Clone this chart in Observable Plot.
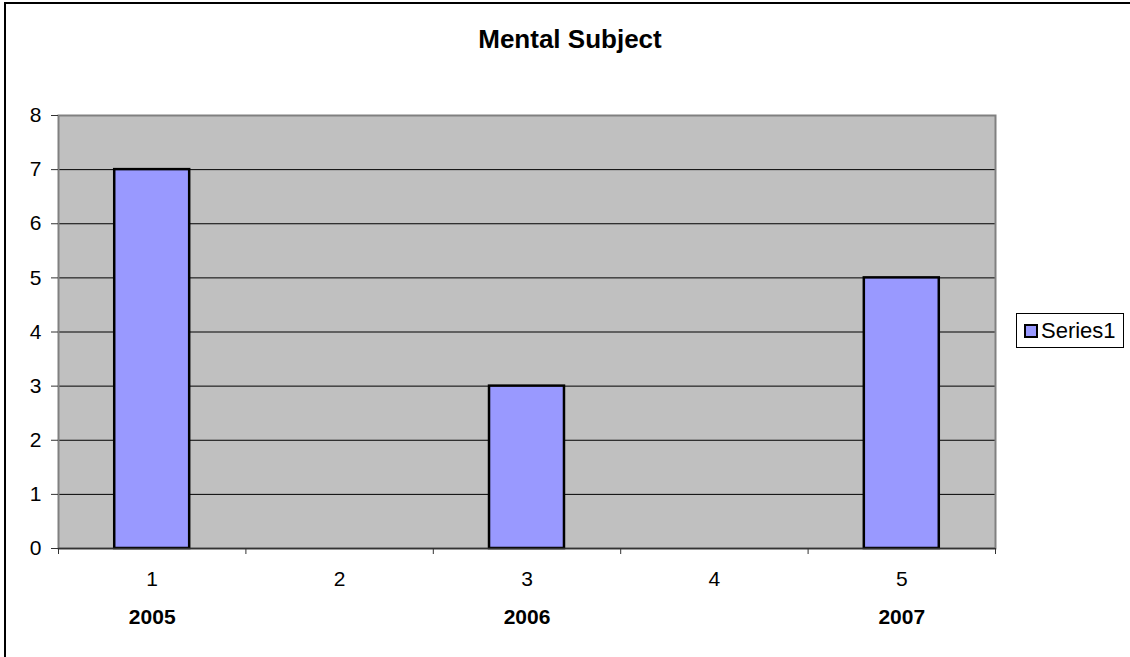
<!DOCTYPE html>
<html>
<head>
<meta charset="utf-8">
<script src="https://cdn.jsdelivr.net/npm/d3@7"></script>
<script src="https://cdn.jsdelivr.net/npm/@observablehq/plot@0.6"></script>
<style>
  html, body { margin: 0; padding: 0; background: #fff; overflow: hidden; width: 1130px; height: 657px; }
  #wrap { position: relative; width: 1130px; height: 657px; overflow: hidden; font-family: "Liberation Sans", Arial, sans-serif; }
  #bTop { position: absolute; left: 4px; top: 2px; width: 1126px; height: 1.5px; background: #000; z-index: 2; }
  #bLeft { position: absolute; left: 4px; top: 2px; width: 1.5px; height: 655px; background: #000; z-index: 2; }
  #cover { position: absolute; left: 1126px; top: 4px; width: 4px; height: 653px; background: #fff; z-index: 3; }
  #title { position: absolute; left: 0; width: 1130px; padding-left: 10px; box-sizing: border-box; top: 24px; text-align: center; font-weight: bold; font-size: 26px; color: #000; z-index: 2; }
  #legend { position: absolute; left: 1016px; top: 313px; width: 108px; height: 35px; border: 1px solid #000; box-sizing: border-box; display: flex; align-items: center; font-size: 22px; color: #000; background: #fff; z-index: 2; }
  #legend .sw { width: 14px; height: 14px; background: #9999FF; border: 2px solid #000; box-sizing: border-box; margin-left: 7px; margin-right: 3px; }
  #chart svg { position: absolute; left: 0; top: 0; }
</style>
</head>
<body>
<div id="wrap">
  <div id="chart"></div>
  <div id="bTop"></div>
  <div id="bLeft"></div>
  <div id="cover"></div>
  <div id="title">Mental Subject</div>
  <div id="legend"><div class="sw"></div><span>Series1</span></div>
</div>
<script>
const categories = [1, 2, 3, 4, 5];
const years = ["2005", "", "2006", "", "2007"];
const values = [7, 0, 3, 0, 5];
const seriesName = "Series1";
const yTicks = [0, 1, 2, 3, 4, 5, 6, 7, 8];
const gridTicks = [1, 2, 3, 4, 5, 6, 7];
const boundaryTicks = [0.5, 1.5, 2.5, 3.5, 4.5, 5.5];

const data = categories.map((c, i) => ({cat: c, year: years[i], value: values[i]}));

const chart = Plot.plot({
  width: 1130,
  height: 657,
  marginLeft: 58,
  marginRight: 135,
  marginTop: 115,
  marginBottom: 109,
  style: {fontFamily: '"Liberation Sans", Arial, sans-serif', fontSize: "21px", color: "#000", background: "transparent"},
  x: {domain: [0.5, 5.5]},
  y: {domain: [0, 8]},
  marks: [
    Plot.frame({fill: "#C0C0C0"}),
    Plot.ruleY(gridTicks, {stroke: "#000", strokeWidth: 1}),
    Plot.frame({stroke: "#808080", strokeWidth: 2}),
    Plot.rectY(data.filter(d => d.value > 0), {
      x1: d => d.cat - 0.2, x2: d => d.cat + 0.2, y: "value",
      fill: "#9999FF", stroke: "#000", strokeWidth: 2.5
    }),
    Plot.ruleY([0], {stroke: "#333", strokeWidth: 1.5}),
    Plot.axisY({ticks: yTicks, tickSize: 7, tickPadding: 10, fontSize: 21, label: null, stroke: "#333", tickFormat: d => String(d)}),
    Plot.axisX({ticks: boundaryTicks, tickSize: 6, tickFormat: () => "", label: null, stroke: "#333"}),
    Plot.axisX({ticks: categories, tickSize: 0, tickPadding: 23, fontSize: 21, label: null, tickFormat: d => String(d)}),
    Plot.axisX({ticks: categories, tickSize: 0, tickPadding: 61, fontSize: 21, fontWeight: "bold", tickFormat: c => years[c - 1], label: null})
  ]
});
document.getElementById("chart").appendChild(chart);
</script>
</body>
</html>
